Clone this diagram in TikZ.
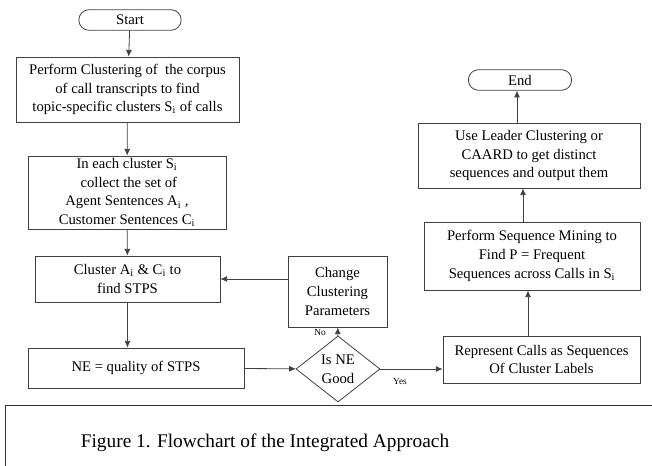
\documentclass[tikz,border=0pt]{standalone}
\usepackage{fontspec}
\setmainfont{Liberation Serif}
\usetikzlibrary{arrows.meta, positioning, shapes.geometric, shapes.misc}

\begin{document}
\begin{tikzpicture}[x=0.75pt, y=-0.75pt,
    every node/.style={font=\fontsize{11}{14}\selectfont, align=center, inner sep=1pt},
    process/.style={rectangle, draw=black!75, line width=0.6pt},
    terminal/.style={rounded rectangle, draw=black!75, line width=0.6pt, minimum height=15.5pt},
    decision/.style={diamond, draw=black!75, line width=0.6pt, aspect=1.3, inner sep=0pt},
    flow/.style={draw=black!75, line width=0.6pt, -{Latex[length=5pt, width=4.5pt]}},
    tag/.style={font=\fontsize{7}{8}\selectfont}]
    \useasboundingbox (0,0) rectangle (652,466);

    \node[terminal, minimum width=78.75pt](start) at (130,20) {Start};
    \node[process, minimum width=167.25pt, minimum height=48.75pt](corpus) at (127.5,89.5)
        {Perform Clustering of ~the corpus\\of call transcripts to find\\topic-specific clusters S\textsubscript{i} of calls};
    \node[process, minimum width=148.5pt, minimum height=54.75pt](collect) at (127,192.5)
        {In each cluster S\textsubscript{i}\\ ~collect the set of\\Agent Sentences A\textsubscript{i} ,\\Customer Sentences C\textsubscript{i}};
    \node[process, minimum width=138.75pt, minimum height=34.5pt](stps) at (127.5,279)
        {Cluster A\textsubscript{i} \& C\textsubscript{i} to\\find STPS};
    \node[process, minimum width=162pt, minimum height=30pt](quality) at (136,368) {NE = quality of STPS};
    \node[decision, minimum width=63pt, minimum height=49.5pt](good) at (338,369) {Is NE\\Good};
    \node[process, minimum width=74.25pt, minimum height=53.25pt](change) at (337.5,291.5)
        {Change\\Clustering\\Parameters};
    \node[process, minimum width=147.75pt, minimum height=35.25pt](represent) at (541.5,359.5)
        {Represent Calls as Sequences\\Of Cluster Labels};
    \node[process, minimum width=162pt, minimum height=51pt](mining) at (532,256)
        {Perform Sequence Mining to\\Find P = Frequent\\Sequences across Calls in S\textsubscript{i}};
    \node[process, minimum width=166.5pt, minimum height=48.75pt](leader) at (529,155.5)
        {Use Leader Clustering or\\CAARD to get distinct\\sequences and output them};
    \node[terminal, minimum width=79.5pt](end) at (520,80) {End};

    \draw[flow] (start) -- (corpus);
    \draw[flow] (corpus) -- (collect);
    \draw[flow] (collect) -- (stps);
    \draw[flow] (stps.south) -- (stps.south |- quality.north);
    \draw[flow] (quality) -- (good);
    \draw[flow] (good) -- (change);
    \draw[flow] (change.west |- stps.east) -- (stps.east);
    \draw[flow] (good.east) -- (good.east -| represent.west);
    \draw[flow] (represent.north -| mining.south) ++(-4,0) coordinate (up1) -- (up1 |- mining.south);
    \draw[flow] (mining.north -| leader.south) ++(-6,0) coordinate (up2) -- (up2 |- leader.south);
    \draw[flow] (leader.north -| end.south) ++(-3,0) coordinate (up3) -- (up3 |- end.south);
    \node[tag](no) at (320,332) {No};
    \node[tag](yes) at (400,381) {Yes};

    \draw[black!80, line width=0.6pt] (5,466) -- (5,405) -- (652,405);
    \node[font=\fontsize{14.5}{16}\selectfont](caption) at (265,443) {Figure 1. Flowchart of the Integrated Approach};
\end{tikzpicture}
\end{document}
